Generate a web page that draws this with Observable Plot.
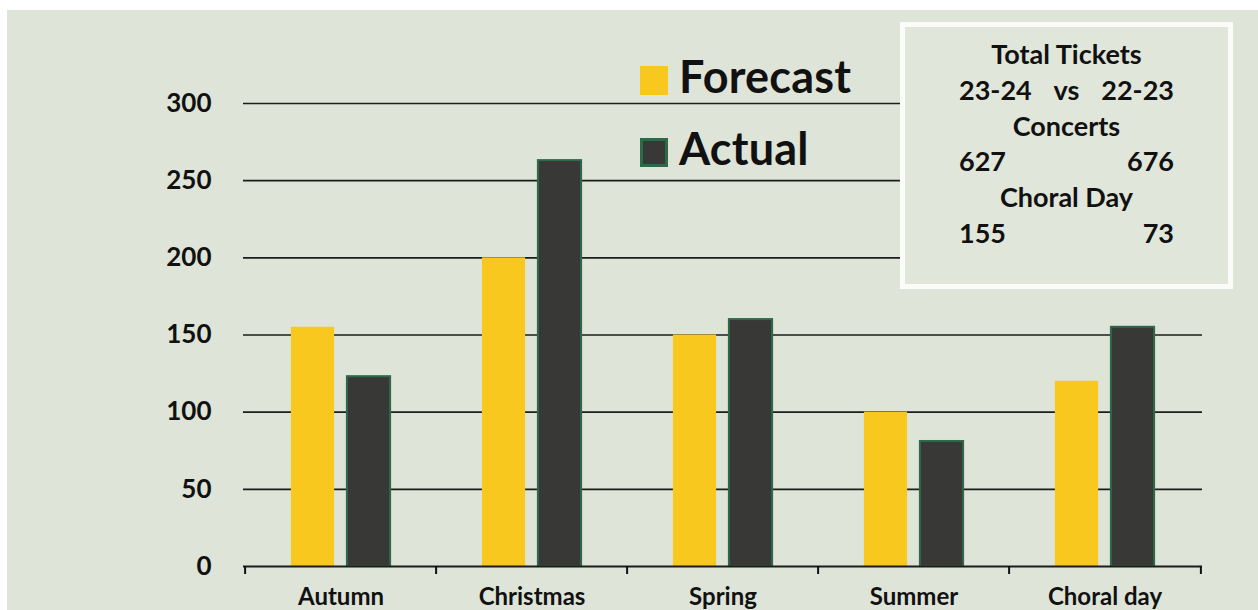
<!DOCTYPE html>
<html><head><meta charset="utf-8">
<script src="https://cdn.jsdelivr.net/npm/d3@7"></script>
<script src="https://cdn.jsdelivr.net/npm/@observablehq/plot@0.6"></script>
<style>
html,body{margin:0;padding:0;background:#fff;}
#wrap{position:relative;width:1258px;height:610px;overflow:hidden;background:#fff;font-family:Lato,"Open Sans",sans-serif;color:#111;}
#paper{position:absolute;left:7px;top:10px;right:0;bottom:0;background:#dee4d7;}
#chart{position:absolute;left:0;top:0;}
.sw{position:absolute;left:640px;width:28px;height:29px;box-sizing:border-box;}
.lt{position:absolute;left:679px;font-size:45px;line-height:45px;font-weight:700;white-space:nowrap;letter-spacing:0.2px;}
#box{position:absolute;left:900px;top:22px;width:323px;height:248px;border:5px solid #fbfcf8;background:#e1e6da;padding-top:9px;box-sizing:content-box;font-weight:700;font-size:27px;line-height:35.8px;}
#box .c{text-align:center;}
#box .r{display:flex;justify-content:space-between;padding:0 54px 0 54px;}
</style>
</head><body>
<div id="wrap">
  <div id="paper"></div>
  <div id="chart"></div>
  <div class="sw" id="sw0"></div><div class="lt" id="lt0"></div>
  <div class="sw" id="sw1"></div><div class="lt" id="lt1"></div>
  <div id="box"></div>
</div>
<script>
const categories = ["Autumn", "Christmas", "Spring", "Summer", "Choral day"];
const forecast = [155, 200, 150, 100, 120];
const actual = [123, 263, 160, 81, 155];
const yTicks = [0, 50, 100, 150, 200, 250, 300];
const seriesNames = ["Forecast", "Actual"];
const seriesColors = ["#f9c81e", "#383937"];
const boxTitle = "Total Tickets";
const seasons = ["23-24", "22-23"];
const concertsTotals = [627, 676];
const choralTotals = [155, 73];

const W = 1258, H = 610, ML = 243, MR = 56, MT = 103, MB = 44;
const step = (W - ML - MR) / categories.length;
const rows = categories.map((c, i) => ({category: c, forecast: forecast[i], actual: actual[i]}));

const chart = Plot.plot({
  width: W, height: H,
  marginLeft: ML, marginRight: MR, marginTop: MT, marginBottom: MB,
  style: {background: "transparent", fontFamily: "Lato, 'Open Sans', sans-serif", color: "#111", overflow: "visible"},
  x: {domain: categories, padding: 0, label: null},
  y: {domain: [0, 300], label: null},
  marks: [
    Plot.ruleY(yTicks.filter(d => d > 0), {stroke: "#1c1c1c", strokeWidth: 1.6}),
    Plot.barY(rows, {x: "category", y: "forecast", fill: seriesColors[0], insetLeft: step / 2 - 50, insetRight: step / 2 + 6}),
    Plot.barY(rows, {x: "category", y: "actual", fill: seriesColors[1], stroke: "#2e6a48", strokeWidth: 2, insetLeft: step / 2 + 6, insetRight: step / 2 - 50}),
    Plot.ruleY([0], {stroke: "#1c1c1c", strokeWidth: 2}),
    Plot.axisY({ticks: yTicks, tickSize: 0, tickPadding: 32, fontSize: 26, fontWeight: 700, label: null}),
    Plot.axisX({tickSize: 0, tickPadding: 21, fontSize: 24, fontWeight: 700, label: null}),
    Plot.axisX({tickSize: 8, text: null, dx: -step / 2, strokeWidth: 2, label: null}),
    Plot.axisX({ticks: [categories[categories.length - 1]], tickSize: 8, text: null, dx: step / 2, strokeWidth: 2, label: null})
  ]
});
document.getElementById("chart").appendChild(chart);

// legend
const sw0 = document.getElementById("sw0"), sw1 = document.getElementById("sw1");
sw0.style.top = "66px"; sw0.style.background = seriesColors[0];
sw1.style.top = "138px"; sw1.style.background = seriesColors[1]; sw1.style.border = "3px solid #2e6a48";
const lt0 = document.getElementById("lt0"), lt1 = document.getElementById("lt1");
lt0.textContent = seriesNames[0]; lt0.style.top = "54px";
lt1.textContent = seriesNames[1]; lt1.style.top = "126px";

// summary box
const box = document.getElementById("box");
box.innerHTML =
  `<div class="c">${boxTitle}</div>` +
  `<div class="r"><span>${seasons[0]}</span><span>vs</span><span>${seasons[1]}</span></div>` +
  `<div class="c">Concerts</div>` +
  `<div class="r"><span>${concertsTotals[0]}</span><span>${concertsTotals[1]}</span></div>` +
  `<div class="c">Choral Day</div>` +
  `<div class="r"><span>${choralTotals[0]}</span><span>${choralTotals[1]}</span></div>`;
</script>
</body></html>
